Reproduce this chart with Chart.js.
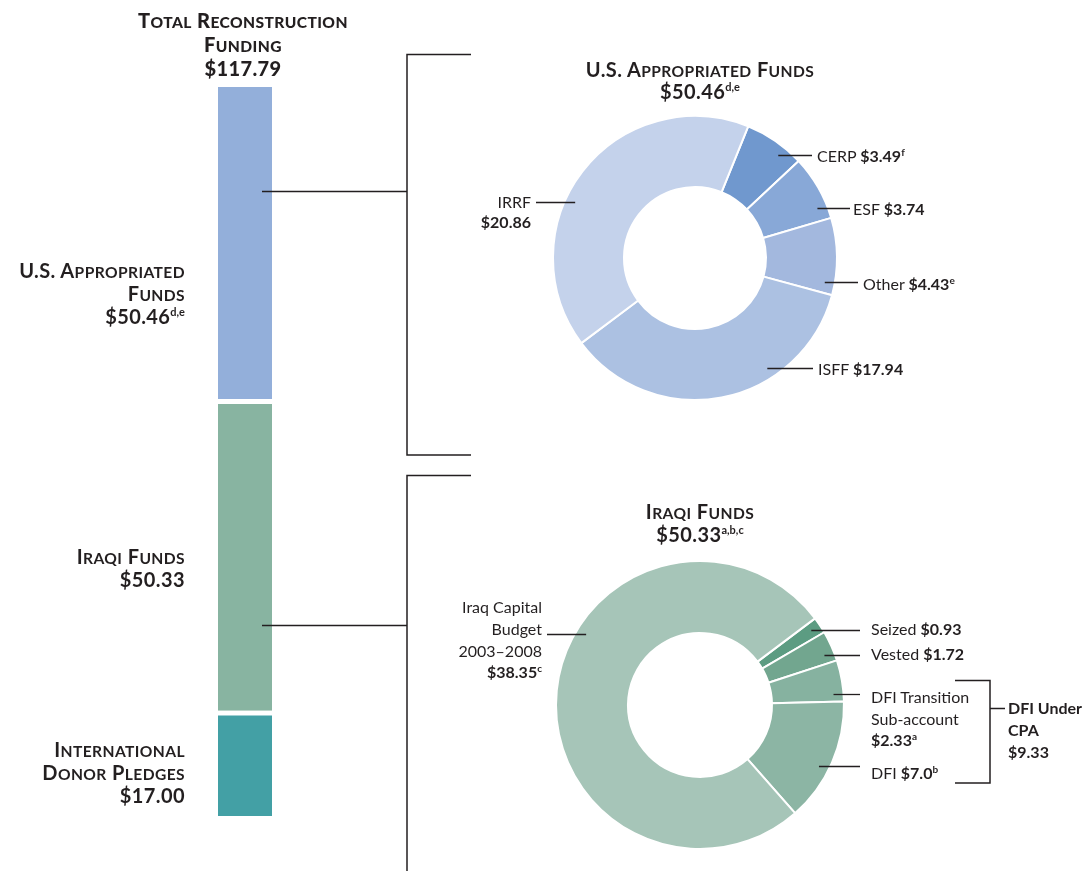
<!DOCTYPE html>
<html>
<head>
<meta charset="utf-8">
<script src="https://cdn.jsdelivr.net/npm/chart.js@4.4.1/dist/chart.umd.min.js"></script>
<style>
  body { margin: 0; width: 1086px; height: 871px; background: #fff; position: relative; overflow: hidden;
         font-family: Lato, "Noto Sans", sans-serif; color: #231f20; }
  canvas, .lbl, svg { position: absolute; }
  svg { left: 0; top: 0; z-index: 2; }
  .lbl { font-size: 16px; line-height: 21px; white-space: nowrap; z-index: 3; }
  .lbl b { font-weight: 700; }
  .lbl sup { font-size: 10px; vertical-align: 6px; line-height: 0; }
  .head { font-size: 20px; font-weight: 700; letter-spacing: 0.4px; }
  .head .sm { text-transform: uppercase; font-size: 0.78em; }
  .head sup { font-size: 11px; vertical-align: 8px; letter-spacing: 0; }
  .big { font-weight: 900; }
  .r { text-align: right; }
  .c { text-align: center; }
</style>
</head>
<body>
<canvas id="barChart" width="54" height="729" style="left:218px; top:87px;"></canvas>
<canvas id="usChart" width="400" height="300" style="left:495px; top:108px;"></canvas>
<canvas id="iraqChart" width="400" height="300" style="left:500px; top:555px;"></canvas>

<svg width="1086" height="871" fill="none" stroke="#231f20" stroke-width="1.5">
  <path d="M262,191.5 H407 M471,54.5 H407 V455 H471"/>
  <path d="M262,625.5 H407 M471,475.5 H407 V871"/>
  <path d="M955,680.5 H990 V783 H955 M990,708.5 H1005"/>
</svg>

<!-- left column -->
<div class="lbl head big c" style="left:100px; width:286px; top:9px; line-height:22px;">Total Reconstruction<br>Funding<br>$117.79</div>
<div class="lbl head r" style="right:901px; top:259.5px;">U.S. Appropriated<br>Funds<br>$50.46<sup>d,e</sup></div>
<div class="lbl head r" style="right:901px; top:545.5px;">Iraqi Funds<br>$50.33</div>
<div class="lbl head r" style="right:901px; top:738.5px;">International<br>Donor Pledges<br>$17.00</div>

<!-- U.S. appropriated doughnut -->
<div class="lbl head c" style="left:550px; width:300px; top:59px; line-height:20px;">U.S. Appropriated Funds<br>$50.46<sup>d,e</sup></div>
<div class="lbl" style="left:817px; top:144.5px;">CERP <b>$3.49<sup>f</sup></b></div>
<div class="lbl" style="left:853px; top:197.5px;">ESF <b>$3.74</b></div>
<div class="lbl" style="left:863px; top:272.5px;">Other <b>$4.43<sup>e</sup></b></div>
<div class="lbl" style="left:818px; top:357.5px;">ISFF <b>$17.94</b></div>
<div class="lbl r" style="right:555px; top:192px; line-height:20px;">IRRF<br><b>$20.86</b></div>

<!-- Iraqi doughnut -->
<div class="lbl head c" style="left:550px; width:300px; top:500.5px;">Iraqi Funds<br>$50.33<sup>a,b,c</sup></div>
<div class="lbl" style="left:871px; top:617.5px;">Seized <b>$0.93</b></div>
<div class="lbl" style="left:871px; top:642.5px;">Vested <b>$1.72</b></div>
<div class="lbl" style="left:871px; top:686.25px; line-height:21.5px;">DFI Transition<br>Sub-account<br><b>$2.33<sup>a</sup></b></div>
<div class="lbl" style="left:871px; top:761.5px;">DFI <b>$7.0<sup>b</sup></b></div>
<div class="lbl r" style="right:544px; top:596.2px; line-height:21.7px;">Iraq Capital<br>Budget<br>2003–2008<br><b>$38.35<sup>c</sup></b></div>
<div class="lbl" style="left:1008px; top:697px; line-height:22px; font-weight:700;">DFI Under<br>CPA<br>$9.33</div>

<script>
// left bar: stacked from the bottom up
const barLabels = ['Total Reconstruction Funding'];
const barSeries = ['International Donor Pledges', 'Iraqi Funds', 'U.S. Appropriated Funds'];
const barValues = [17.00, 50.33, 50.46];
const barColors = ['#43a0a5', '#88b4a1', '#93afda'];
const totalFunding = 117.79;

// U.S. appropriated funds, clockwise from CERP
const usLabels = ['CERP', 'ESF', 'Other', 'ISFF', 'IRRF'];
const usValues = [3.49, 3.74, 4.43, 17.94, 20.86];
const usColors = ['#7098ce', '#88a8d7', '#a3b8de', '#acc1e2', '#c4d2eb'];

// Iraqi funds, clockwise from Seized
const iraqLabels = ['Seized', 'Vested', 'DFI Transition Sub-account', 'DFI', 'Iraq Capital Budget 2003–2008'];
const iraqValues = [0.93, 1.72, 2.33, 7.0, 38.35];
const iraqColors = ['#5c9c82', '#72a68f', '#86b2a0', '#8cb5a4', '#a6c5b8'];

// fake small caps for the headings: lowercase runs get a smaller upper-case span
function smallCaps(node) {
  Array.from(node.childNodes).forEach(function (n) {
    if (n.nodeType === 3) {
      const frag = document.createDocumentFragment();
      n.textContent.split(/([a-z]+)/).forEach(function (part, k) {
        if (!part) return;
        if (k % 2) {
          const s = document.createElement('span');
          s.className = 'sm';
          s.textContent = part;
          frag.appendChild(s);
        } else {
          frag.appendChild(document.createTextNode(part));
        }
      });
      node.replaceChild(frag, n);
    } else if (n.nodeName !== 'SUP') {
      smallCaps(n);
    }
  });
}
document.querySelectorAll('.head').forEach(smallCaps);

Chart.defaults.animation = false;

new Chart(document.getElementById('barChart').getContext('2d'), {
  type: 'bar',
  data: {
    labels: barLabels,
    datasets: barSeries.map(function (name, i) {
      return {
        label: name,
        data: [barValues[i]],
        backgroundColor: barColors[i],
        borderColor: '#ffffff',
        borderWidth: i < barSeries.length - 1 ? { top: 5, right: 0, bottom: 0, left: 0 } : 0,
        borderSkipped: false,
        barPercentage: 1,
        categoryPercentage: 1
      };
    })
  },
  options: {
    responsive: false,
    maintainAspectRatio: false,
    layout: { padding: 0 },
    scales: {
      x: { stacked: true, display: false },
      y: { stacked: true, display: false, min: 0, max: totalFunding }
    },
    plugins: { legend: { display: false }, tooltip: { enabled: false } }
  }
});

// short horizontal leader lines, starting inside the ring
function leaders(lines, depth) {
  return {
    id: 'leaders',
    afterDraw: function (chart) {
      const ctx = chart.ctx;
      const arc = chart.getDatasetMeta(0).data[0].getProps(['x', 'y', 'outerRadius'], true);
      const r = arc.outerRadius * depth;
      const ox = chart.canvas.offsetLeft, oy = chart.canvas.offsetTop;
      ctx.save();
      ctx.strokeStyle = '#231f20';
      ctx.lineWidth = 1.3;
      lines.forEach(function (l) {
        const y = l.y - oy + 0.5;
        const dx = Math.sqrt(Math.max(r * r - (y - arc.y) * (y - arc.y), 0));
        const sx = arc.x + (l.side === 'left' ? -dx : dx);
        ctx.beginPath();
        ctx.moveTo(sx, y);
        ctx.lineTo(l.toX - ox, y);
        ctx.stroke();
      });
      ctx.restore();
    }
  };
}

function doughnut(id, labels, values, colors, rotation, radius, lines) {
  return new Chart(document.getElementById(id).getContext('2d'), {
    type: 'doughnut',
    data: {
      labels: labels,
      datasets: [{
        data: values,
        backgroundColor: colors,
        borderColor: '#ffffff',
        borderWidth: 2
      }]
    },
    options: {
      responsive: false,
      maintainAspectRatio: false,
      rotation: rotation,
      radius: radius,
      cutout: '50%',
      plugins: { legend: { display: false }, tooltip: { enabled: false } }
    },
    plugins: [leaders(lines, 0.93)]
  });
}

doughnut('usChart', usLabels, usValues, usColors, 22, 142, [
  { y: 155, toX: 812 },
  { y: 208, toX: 850 },
  { y: 282, toX: 858 },
  { y: 368, toX: 813 },
  { y: 202, toX: 536, side: 'left' }
]);

doughnut('iraqChart', iraqLabels, iraqValues, iraqColors, 53, 144, [
  { y: 630, toX: 860 },
  { y: 655, toX: 860 },
  { y: 694, toX: 860 },
  { y: 766, toX: 860 },
  { y: 634, toX: 547, side: 'left' }
]);
</script>
</body>
</html>
